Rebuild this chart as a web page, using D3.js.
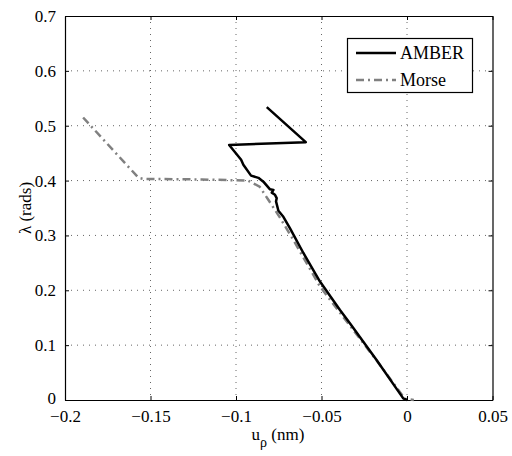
<!DOCTYPE html>
<html>
<head>
<meta charset="utf-8">
<script src="https://cdn.jsdelivr.net/npm/d3@7"></script>
<style>
  body { margin: 0; background: #fff; }
  text { font-family: "Liberation Serif", "Times New Roman", serif; fill: #000; }
</style>
</head>
<body>
<div id="chart"></div>
<script>
// AMBER curve (u_rho in nm, lambda in rads)
var amberX = [-0.082, -0.0592, -0.104, -0.0970, -0.0957, -0.0912, -0.0869, -0.0840, -0.0801, -0.0781,
  -0.0791, -0.0772, -0.0762, -0.0766, -0.0752, -0.0723, -0.0684, -0.0606, -0.0509, -0.0392,
  -0.0334, -0.0178, -0.0022, 0];
var amberY = [0.534, 0.470, 0.465, 0.438, 0.429, 0.409, 0.405, 0.398, 0.384, 0.383,
  0.378, 0.374, 0.368, 0.362, 0.345, 0.334, 0.313, 0.268, 0.216, 0.164,
  0.140, 0.073, 0.003, 0];

// Morse curve
var morseX = [-0.1894, -0.157, -0.154, -0.12, -0.093, -0.0862, -0.0811, -0.0742, -0.0665, -0.0509,
  -0.0404, -0.018, -0.0012, 0.004];
var morseY = [0.515, 0.405, 0.403, 0.402, 0.400, 0.389, 0.365, 0.332, 0.292, 0.207,
  0.164, 0.073, 0.002, 0];

var xTicks = [-0.2, -0.15, -0.1, -0.05, 0, 0.05];
var yTicks = [0, 0.1, 0.2, 0.3, 0.4, 0.5, 0.6, 0.7];
var seriesNames = ["AMBER", "Morse"];

var width = 512, height = 456;
var pLeft = 65, pRight = 492.5, pTop = 16, pBottom = 400;
var serif = '"Liberation Serif", "Times New Roman", serif';

var svg = d3.select('#chart')
  .append('svg')
  .attr('width', width)
  .attr('height', height)

var x = d3.scaleLinear().domain([-0.2, 0.05]).range([pLeft, pRight])
var y = d3.scaleLinear().domain([0, 0.7]).range([pBottom, pTop])

// grid
svg.append('g').selectAll('line')
  .data(xTicks.slice(1, -1))
  .join('line')
  .attr('x1', d => x(d)).attr('x2', d => x(d))
  .attr('y1', pTop).attr('y2', pBottom)
  .attr('stroke', '#666').attr('stroke-width', 1)
  .attr('stroke-dasharray', '1,5')

svg.append('g').selectAll('line')
  .data(yTicks.slice(1, -1))
  .join('line')
  .attr('y1', d => y(d)).attr('y2', d => y(d))
  .attr('x1', pLeft).attr('x2', pRight)
  .attr('stroke', '#666').attr('stroke-width', 1)
  .attr('stroke-dasharray', '1,5')

// axes, ticks inward
var fmtX = d => d === 0 ? "0" : d3.format("")(d).replace("-", "\u2212")
var fmtY = d => d === 0 ? "0" : d3.format(".1f")(d)

var xAxis = svg.append('g')
  .attr('transform', 'translate(0,' + pBottom + ')')
  .call(d3.axisBottom(x).tickValues(xTicks).tickSizeInner(-4).tickSizeOuter(0).tickPadding(10).tickFormat(fmtX))
var yAxis = svg.append('g')
  .attr('transform', 'translate(' + pLeft + ',0)')
  .call(d3.axisLeft(y).tickValues(yTicks).tickSizeInner(-4).tickSizeOuter(0).tickPadding(9).tickFormat(fmtY))
svg.append('g')
  .attr('transform', 'translate(0,' + pTop + ')')
  .call(d3.axisTop(x).tickValues(xTicks).tickSizeInner(-4).tickSizeOuter(0).tickFormat(''))
svg.append('g')
  .attr('transform', 'translate(' + pRight + ',0)')
  .call(d3.axisRight(y).tickValues(yTicks).tickSizeInner(-4).tickSizeOuter(0).tickFormat(''))

svg.selectAll('.domain').attr('stroke', '#000').attr('stroke-width', 1.2)
svg.selectAll('.tick line').attr('stroke', '#000')
svg.selectAll('g').attr('font-family', serif).attr('font-size', 17)
svg.selectAll('.tick text').attr('fill', '#000')
// the "0" on the y axis sits a little low like matlab draws it
yAxis.selectAll('.tick text').filter(d => d === 0).attr('dy', '0.2em')

// curves
var line = d3.line()
  .x(d => x(d[0]))
  .y(d => y(d[1]))

var amber = d3.zip(amberX, amberY)
var morse = d3.zip(morseX, morseY)

svg.append('path')
  .datum(morse)
  .attr('d', line)
  .attr('fill', 'none')
  .attr('stroke', '#808080')
  .attr('stroke-width', 2.5)
  .attr('stroke-dasharray', '8,4,2,4')

svg.append('path')
  .datum(amber)
  .attr('d', line)
  .attr('fill', 'none')
  .attr('stroke', '#000')
  .attr('stroke-width', 2.5)
  .attr('stroke-linejoin', 'round')

// legend
var lg = svg.append('g')
lg.append('rect')
  .attr('x', 347.5).attr('y', 38.5)
  .attr('width', 125).attr('height', 54)
  .attr('fill', '#fff').attr('stroke', '#000').attr('stroke-width', 1.2)

var legendStyles = [
  { stroke: '#000', dash: null },
  { stroke: '#808080', dash: '8,4,2,4' }
];
seriesNames.forEach(function (name, i) {
  var ly = 53 + i * 27;
  lg.append('line')
    .attr('x1', 356).attr('x2', 396)
    .attr('y1', ly).attr('y2', ly)
    .attr('stroke', legendStyles[i].stroke)
    .attr('stroke-width', 2.5)
    .attr('stroke-dasharray', legendStyles[i].dash)
  lg.append('text')
    .attr('x', 400).attr('y', ly + 6)
    .style('font-family', serif)
    .style('font-size', '18px')
    .text(name)
})

// axis labels
var xl = svg.append('text')
  .attr('x', 278).attr('y', 440)
  .attr('text-anchor', 'middle')
  .style('font-family', serif)
  .style('font-size', '17px')
xl.append('tspan').text('u')
xl.append('tspan').attr('dy', 7).style('font-size', '14px').text('\u03C1')
xl.append('tspan').attr('dy', -7).text(' (nm)')

svg.append('text')
  .attr('transform', 'translate(31,208) rotate(-90)')
  .attr('text-anchor', 'middle')
  .style('font-family', serif)
  .style('font-size', '17px')
  .text('\u03BB (rads)')
</script>
</body>
</html>
